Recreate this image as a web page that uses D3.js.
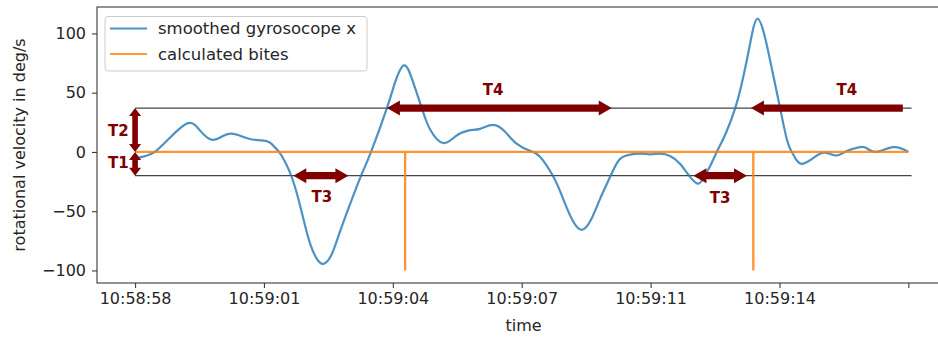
<!DOCTYPE html>
<html><head><meta charset="utf-8">
<script src="https://cdn.jsdelivr.net/npm/d3@7/dist/d3.min.js"></script>
<style>
html,body{margin:0;padding:0;background:#fff;}
svg{display:block;font-family:"DejaVu Sans",sans-serif;}
</style></head>
<body><svg id="chart" width="938" height="338"></svg>
<script>
// ---- data (time in seconds after 10:58:58, values in deg/s) ----
const gyroTime = [0.00,0.25,0.50,0.88,1.34,1.64,1.93,2.19,2.42,2.70,2.95,3.32,3.48,3.63,3.80,3.96,4.12,4.27,4.42,4.58,4.75,4.95,5.15,5.40,5.70,5.95,6.35,6.55,6.78,7.00,7.23,7.44,7.77,8.07,8.40,8.70,9.03,9.33,9.62,9.96,10.21,10.55,10.80,11.02,11.26,11.50,11.72,11.98,12.20,12.45,12.75,13.00,13.24,13.49,13.74,13.97,14.19,14.33,14.50,14.67,14.90,15.13,15.28,15.43,15.56,15.69,15.86,16.06,16.26,16.44,16.56,16.68,16.81,17.02,17.27,17.47,17.69,17.90,18.11,18.40,18.66,19.12,19.50];
const gyroValue = [-5.7,-3.5,0,12,24.3,18,10.3,13,15.4,13,10.5,9.1,5.5,0,-9.5,-22,-40,-60,-78,-90,-94.4,-87,-69,-46,-20,0,37,58,73,60,37,19,7.5,13,18,19.5,22.8,17,7,1,-4,-21,-40,-57,-65.7,-57,-40,-21,-7,-2.5,-1.5,-2,-1.5,-3.5,-10,-20,-26.8,-22,-12,0,16,36.5,55,78,100,112.4,100,70,37.8,10,0,-7,-10,-7,-1.5,-1,-3,0,2.7,4,0,4,0];
const biteTimes = [6.81, 15.59];
const biteDepth = -100;
const biteStart = 0, biteEnd = 19.5;
const thresholdUpper = 37, thresholdLower = -20;
const thresholdStart = 0, thresholdEnd = 19.58;
const xTickValues = [0, 3.25, 6.5, 9.75, 13, 16.25, 19.5];
const xTickLabels = ["10:58:58","10:59:01","10:59:04","10:59:07","10:59:11","10:59:14",""];
const yTickValues = [-100,-50,0,50,100];
const seriesNames = ["smoothed gyrosocope x","calculated bites"];
// annotation arrows
const arrowNames = ["T1","T2","T3","T3","T4","T4"];
const arrowX1 = [0, 0, 3.99, 14.08, 6.35, 19.36];
const arrowY1 = [0, 0, -20, -20, 37, 37];
const arrowX2 = [0, 0, 5.38, 15.43, 12.02, 15.53];
const arrowY2 = [-20, 37, -20, -20, 37, 37];
const arrowStartHead = [true, true, true, true, true, false];
const labelX = [-0.42, -0.42, 4.71, 14.75, 9.03, 17.95];
const labelY = [-9.6, 17.9, -37.8, -39.2, 52.2, 52.2];

// ---- layout ----
const svg = d3.select("#chart");
const L = 97, R = 950, T = 7, B = 283;
const x = d3.scaleLinear().domain([-0.96, 20.55]).range([L, R]);
const y = d3.scaleLinear().domain([-110.6, 122.3]).range([B, T]);
const txtColor = "#262626", spineColor = "#3a3a3a";
const FS = 16;

// threshold lines
[thresholdUpper, thresholdLower].forEach(v => {
  svg.append("line").attr("x1", x(thresholdStart)).attr("x2", x(thresholdEnd))
    .attr("y1", y(v)).attr("y2", y(v)).attr("stroke", "#444").attr("stroke-width", 1.2);
});

// gyro line
const gyro = gyroTime.map((t,i)=>[t, gyroValue[i]]);
svg.append("path").datum(gyro)
  .attr("d", d3.line().x(d=>x(d[0])).y(d=>y(d[1])).curve(d3.curveNatural))
  .attr("fill","none").attr("stroke","#1f77b4").attr("stroke-opacity",0.8).attr("stroke-width",2.2)
  .attr("stroke-linejoin","round");

// bites line
const bites = [[biteStart,0]];
biteTimes.forEach(t => { bites.push([t,0],[t,biteDepth],[t,0]); });
bites.push([biteEnd,0]);
svg.append("path").datum(bites)
  .attr("d", d3.line().x(d=>x(d[0])).y(d=>y(d[1])))
  .attr("fill","none").attr("stroke","#ff7f0e").attr("stroke-opacity",0.85).attr("stroke-width",2.3);

// arrows
function arrowPts(x1,y1,x2,y2,startHead,hl,hw,sw){
  const len = Math.hypot(x2-x1,y2-y1), ux=(x2-x1)/len, uy=(y2-y1)/len, nx=-uy, ny=ux;
  const P=(bx,by,a,b)=>[bx+ux*a+nx*b, by+uy*a+ny*b];
  const pts=[];
  if(startHead){ pts.push([x1,y1], P(x1,y1,hl,hw), P(x1,y1,hl,sw)); } else pts.push(P(x1,y1,0,sw));
  pts.push(P(x2,y2,-hl,sw), P(x2,y2,-hl,hw), [x2,y2], P(x2,y2,-hl,-hw), P(x2,y2,-hl,-sw));
  if(startHead){ pts.push(P(x1,y1,hl,-sw), P(x1,y1,hl,-hw)); } else pts.push(P(x1,y1,0,-sw));
  return pts;
}
arrowNames.forEach((n,i)=>{
  const vertical = arrowX1[i]===arrowX2[i];
  const hl = vertical ? 8 : 13, hw = vertical ? 6 : 7.5, sw = vertical ? 2.8 : 3.6;
  const pts = arrowPts(x(arrowX1[i]),y(arrowY1[i]),x(arrowX2[i]),y(arrowY2[i]),arrowStartHead[i],hl,hw,sw);
  svg.append("polygon").attr("points", pts.map(p=>p.join(",")).join(" ")).attr("fill","#800000");
  svg.append("text").attr("x", x(labelX[i])).attr("y", y(labelY[i]))
    .attr("text-anchor","middle").attr("dominant-baseline","central")
    .attr("font-size", 15).attr("font-weight","bold").attr("fill","#800000").text(n);
});

// spines
svg.append("rect").attr("x",L).attr("y",T).attr("width",R-L).attr("height",B-T)
  .attr("fill","none").attr("stroke",spineColor).attr("stroke-width",1.1);

// x axis
const xAxis = svg.append("g").attr("transform",`translate(0,${B})`)
  .call(d3.axisBottom(x).tickValues(xTickValues).tickFormat((d,i)=>xTickLabels[i]).tickSize(5).tickPadding(5));
xAxis.select(".domain").remove();
xAxis.selectAll("line").attr("stroke",spineColor).attr("stroke-width",1.1);
xAxis.selectAll("text").attr("font-size",FS).attr("fill",txtColor).attr("font-family","DejaVu Sans");

// y axis
const yAxis = svg.append("g").attr("transform",`translate(${L},0)`)
  .call(d3.axisLeft(y).tickValues(yTickValues).tickFormat(d=>d<0?"\u2212"+Math.abs(d):String(d)).tickSize(5).tickPadding(6));
yAxis.select(".domain").remove();
yAxis.selectAll("line").attr("stroke",spineColor).attr("stroke-width",1.1);
yAxis.selectAll("text").attr("font-size",FS).attr("fill",txtColor).attr("font-family","DejaVu Sans");

// axis titles
svg.append("text").attr("x",(L+R)/2).attr("y",331).attr("text-anchor","middle")
  .attr("font-size",FS).attr("fill",txtColor).text("time");
svg.append("text").attr("transform",`translate(25,${(T+B)/2}) rotate(-90)`).attr("text-anchor","middle")
  .attr("font-size",FS).attr("fill",txtColor).text("rotational velocity in deg/s");

// legend
const lg = svg.append("g");
lg.append("rect").attr("x",105).attr("y",16.5).attr("width",262).attr("height",54.5).attr("rx",3)
  .attr("fill","#fff").attr("fill-opacity",0.8).attr("stroke","#ccc").attr("stroke-width",1);
const legColors = ["#1f77b4","#ff7f0e"];
seriesNames.forEach((s,i)=>{
  const yy = 28.5 + i*25.5;
  lg.append("line").attr("x1",110).attr("x2",147).attr("y1",yy).attr("y2",yy)
    .attr("stroke",legColors[i]).attr("stroke-opacity",0.8).attr("stroke-width",2.2);
  lg.append("text").attr("x",158).attr("y",yy).attr("dominant-baseline","central")
    .attr("font-size",16.5).attr("fill",txtColor).text(s);
});
</script></body></html>
